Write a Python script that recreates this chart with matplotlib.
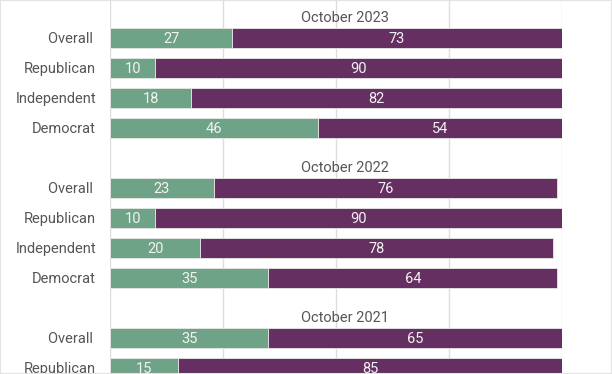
import matplotlib.pyplot as plt
from matplotlib.patches import Rectangle

plt.rcParams['font.family'] = ['Roboto', 'DejaVu Sans']

groups = ["October 2023", "October 2022", "October 2021"]
group_rows = [
    ["Overall ", "Republican", "Independent", "Democrat"],
    ["Overall ", "Republican", "Independent", "Democrat"],
    ["Overall ", "Republican"],
]
green_vals = [
    [27, 10, 18, 46],
    [23, 10, 20, 35],
    [35, 15],
]
purple_vals = [
    [73, 90, 82, 54],
    [76, 90, 78, 64],
    [65, 85],
]

GREEN = "#6fa388"
PURPLE = "#652f62"
LABEL = "#555555"

fig = plt.figure(figsize=(6.12, 3.74), dpi=100)
ax = fig.add_axes([110 / 612, 0, 452 / 612, 1])

top = -38 / 30
ax.set_ylim(top + 374 / 30, top)
ax.set_xlim(0, 100)

bar_h = 0.67
for g, (title, rows) in enumerate(zip(groups, group_rows)):
    base = g * 5
    ax.text(52, base - 0.66, title, ha="center", va="center",
            fontsize=10.5, color=LABEL)
    for r, name in enumerate(rows):
        y = base + r
        gv = green_vals[g][r]
        pv = purple_vals[g][r]
        ax.barh(y, gv, height=bar_h, color=GREEN, edgecolor="#e8e8e8",
                linewidth=0.6, zorder=3)
        ax.barh(y, pv, left=gv, height=bar_h, color=PURPLE,
                edgecolor="#e8e8e8", linewidth=0.6, zorder=3)
        ax.text(gv / 2, y + 0.02, str(gv), ha="center", va="center",
                fontsize=10.5, color="#f2f2f2", zorder=4)
        ax.text(gv + pv / 2, y + 0.02, str(pv), ha="center", va="center",
                fontsize=10.5, color="#f2f2f2", zorder=4)
        ax.text(-14 / 452 * 100, y + 0.02, name, ha="right", va="center",
                fontsize=10.5, color=LABEL, clip_on=False)

for x in [0, 25, 50, 75, 100]:
    ax.axvline(x, color="#dddddd", linewidth=1, zorder=1)

ax.set_xticks([])
ax.set_yticks([])
for s in ax.spines.values():
    s.set_visible(False)

# outer light border
fig.patches.append(Rectangle((0, 0), 1, 1, transform=fig.transFigure,
                             fill=False, edgecolor="#e3e3e3", linewidth=1.5))

fig.savefig("out.png", dpi=100)
